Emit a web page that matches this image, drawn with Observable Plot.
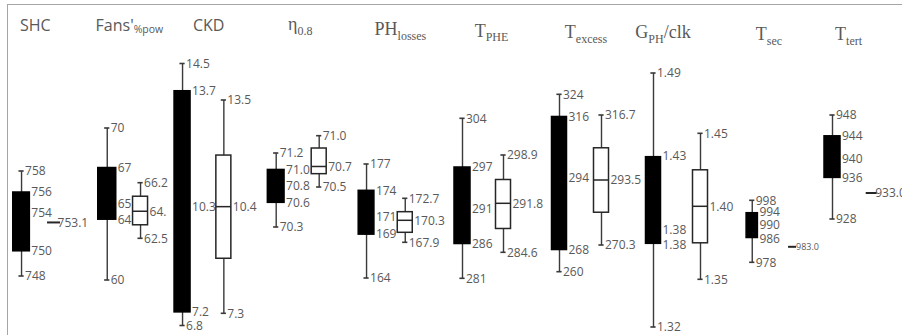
<!DOCTYPE html>
<html><head><meta charset="utf-8">
<script src="https://cdn.jsdelivr.net/npm/d3@7"></script>
<script src="https://cdn.jsdelivr.net/npm/@observablehq/plot@0.6"></script>
<style>
html,body{margin:0;padding:0;background:#fff;}
#chart{position:relative;width:902px;height:335px;overflow:hidden;background:#fff;}
#chart svg{position:absolute;left:0;top:0;}
#frame{position:absolute;left:7px;top:4px;width:900px;height:340px;border-top:1.5px solid #a6a6a6;border-left:1.5px solid #a6a6a6;}
</style></head><body>
<div id="chart"><div id="frame"></div></div>
<script>
// ---------- data ----------
const categories = ["SHC", "Fans'%pow", "CKD", "η0.8", "PHlosses", "TPHE", "Texcess", "GPH/clk", "Tsec", "Ttert"];
// title pieces: main text, subscript, text after subscript
const titleMain = ["SHC", "Fans'", "CKD", "η", "PH", "T", "T", "G", "T", "T"];
const titleSub  = ["", "%pow", "", "0.8", "losses", "PHE", "excess", "PH", "sec", "tert"];
const titleTail = ["", "", "", "", "", "", "", "/clk", "", ""];

// black (filled) boxes
const blackMax = [758, 70, 14.5, 71.2, 177, 304, 324, 1.49, 998, 948];
const blackQ3  = [756, 67.4, 13.7, 71.0, 174, 297, 316, 1.434, 994, 944];
const blackMed = [754, 65, 10.3, 70.8, 171, 291, 294, 1.384, 990, 940];
const blackQ1  = [750.4, 64, 7.2, 70.6, 169, 286, 268, 1.376, 986, 936];
const blackMin = [748, 60, 6.8, 70.3, 164, 281, 260, 1.32, 978, 928];
const blackDecimals = [0, 0, 1, 1, 0, 0, 0, 2, 0, 0];

// white (outlined) boxes; null = only a single value is shown
const whiteMax = [null, 66.2, 13.5, 71.0, 172.7, 298.9, 316.7, 1.45, null, null];
const whiteQ3  = [null, 65.3, 11.9, 70.88, 171.24, 295.3, 305.0, 1.425, null, null];
const whiteMed = [753.1, 64.3, 10.4, 70.7, 170.3, 291.8, 293.5, 1.40, 983.0, 933.0];
const whiteQ1  = [null, 63.4, 8.9, 70.63, 168.99, 288.1, 282.0, 1.375, null, null];
const whiteMin = [null, 62.5, 7.3, 70.5, 167.9, 284.6, 270.3, 1.35, null, null];
const whiteDecimals = [1, 1, 1, 1, 1, 1, 1, 2, 1, 1];
const whiteMedLabel = ["753.1", "64.", "10.4", "70.7", "170.3", "291.8", "293.5", "1.40", "983.0", "933.0"];

// ---------- layout (positions / sizes / styles) ----------
const W = 902, H = 335;
const groupCenter = [37.3, 123.4, 202.7, 297.2, 385.4, 482.5, 580, 676.5, 771.9, 851.6];
const pairGap = [32.5, 33.3, 41.3, 43, 38.7, 41, 42, 47, 40.3, 39.2];
const blackWidth = [16.6, 18, 16, 16.7, 15.7, 16, 15, 15, 11.3, 16];
const whiteWidth = 15;
const singleWidth = [13, 0, 0, 0, 0, 0, 0, 0, 8, 11];
const singleFont = [12, 0, 0, 0, 0, 0, 0, 0, 9, 12];
// small vertical nudges of the black box labels [q3, median, q1], px
const labelNudge = [[0, 0, 0], [0, 0, 0], [0, 0, 0], [0, 0, 0], [0, 0, 0], [0, 0, 0], [0, 0, 0], [-1, -1.5, 1], [-1, 0, 1], [0, 2, 0]];
// pixel rows of each box's whisker ends: [row of max, row of min]
const blackRows = [[171, 276], [128, 280], [63.5, 325.5], [153, 227], [164, 278], [118.3, 278.3], [94.3, 271.7], [73, 327], [200.3, 262.3], [115, 219]];
const whiteRows = [null, [182.7, 238.3], [100, 313.3], [135.7, 187], [198.3, 242.3], [155, 252.3], [115, 245], [133.3, 279.3], null, null];
const serifTitle = [false, false, false, true, true, true, true, true, true, true];
const titleDx = [-2, 6, 6, 3, 15, 9, 6, -13.5, -3, -3];
const titleBase = [31, 31, 31, 30, 35, 36.7, 38, 38, 40, 40];

const INK = "#3a3a3a", TEXT = "#595959";
const LABEL_FONT = "'Open Sans', 'DejaVu Sans', sans-serif";
const LABEL_SIZE = 12;
const xScale = {type: "linear", domain: d3.range(categories.length), range: groupCenter, axis: null};

function capMarks(data, dx) {
  return Plot.rect(data, {x1: "i", x2: "i", y1: "v", y2: "v", insetLeft: -2.6, insetRight: -2.6, insetTop: -0.8, insetBottom: -0.8, fill: INK, dx});
}

function boxPlot(i, kind) {
  const black = kind === "black";
  const st = black
    ? {min: blackMin[i], q1: blackQ1[i], med: blackMed[i], q3: blackQ3[i], max: blackMax[i]}
    : {min: whiteMin[i], q1: whiteQ1[i], med: whiteMed[i], q3: whiteQ3[i], max: whiteMax[i]};
  const rows = black ? blackRows[i] : whiteRows[i];
  const dx = (black ? -1 : 1) * pairGap[i] / 2;
  const w = black ? blackWidth[i] : whiteWidth;
  const dec = black ? blackDecimals[i] : whiteDecimals[i];
  const fmt = d3.format(`.${dec}f`);
  const d = {i, ...st};
  const ends = [{i, v: st.min}, {i, v: st.max}];
  const marks = [
    Plot.ruleX([d], {x: "i", y1: "min", y2: "max", stroke: INK, strokeWidth: 1.4, dx}),
    capMarks(ends, dx),
    Plot.rect([d], {x1: "i", x2: "i", y1: "q1", y2: "q3", insetLeft: -w / 2, insetRight: -w / 2,
      fill: black ? "#000" : "#fff", stroke: black ? "#000" : "#262626", strokeWidth: 1.5, dx})
  ];
  const whiskerLabels = ends.map(e => ({i, v: e.v, t: fmt(e.v), n: 0}));
  let boxLabels;
  if (black) {
    boxLabels = [st.q3, st.med, st.q1].map((v, k) => ({i, v, t: fmt(v), n: labelNudge[i][k]}));
  } else {
    marks.push(Plot.rect([d], {x1: "i", x2: "i", y1: "med", y2: "med", insetLeft: -w / 2, insetRight: -w / 2,
      insetTop: -0.75, insetBottom: -0.75, fill: "#262626", dx}));
    boxLabels = [{i, v: st.med, t: whiteMedLabel[i], n: 0}];
  }
  const textOpts = {x: "i", y: "v", text: "t", textAnchor: "start", fill: TEXT, fontSize: LABEL_SIZE, fontFamily: LABEL_FONT};
  marks.push(Plot.text(whiskerLabels, {...textOpts, dx: dx + 3.5}));
  // nudged labels: one text mark per distinct nudge
  for (const n of new Set(boxLabels.map(b => b.n))) {
    marks.push(Plot.text(boxLabels.filter(b => b.n === n), {...textOpts, dx: dx + w / 2 + 1.5, dy: n}));
  }

  // single-value companion (drawn on the black box's scale)
  if (black && whiteMax[i] == null) {
    const sdx = pairGap[i] / 2;
    const s = [{i, v: whiteMed[i], t: whiteMedLabel[i]}];
    marks.push(Plot.rect(s, {x1: "i", x2: "i", y1: "v", y2: "v", insetLeft: -singleWidth[i] / 2, insetRight: -singleWidth[i] / 2,
      insetTop: -1, insetBottom: -1, fill: "#262626", dx: sdx}));
    marks.push(Plot.text(s, {...textOpts, fontSize: singleFont[i], dx: sdx + 3.5}));
  }

  return Plot.plot({
    width: W, height: H, margin: 0,
    style: {background: "transparent", overflow: "visible"},
    x: xScale,
    y: {domain: [st.min, st.max], range: [rows[1], rows[0]], axis: null},
    marks
  });
}

const chart = document.getElementById("chart");
categories.forEach((c, i) => {
  chart.appendChild(boxPlot(i, "black"));
  if (whiteMax[i] != null) chart.appendChild(boxPlot(i, "white"));
});

// titles with subscripts
const xPos = d3.scaleLinear().domain(d3.range(categories.length)).range(groupCenter);
const tsvg = d3.create("svg").attr("width", W).attr("height", H).style("overflow", "visible");
categories.forEach((c, i) => {
  const serif = serifTitle[i];
  const t = tsvg.append("text")
    .attr("x", xPos(i) + titleDx[i])
    .attr("y", titleBase[i])
    .attr("text-anchor", "middle")
    .attr("fill", TEXT)
    .attr("font-family", serif ? "'Liberation Serif', 'Times New Roman', serif" : LABEL_FONT)
    .attr("font-size", serif ? 18 : 16);
  t.append("tspan").text(titleMain[i]);
  const subSize = serif ? 12 : 10.5;
  const shift = serif ? 4.5 : 2;
  if (titleSub[i]) t.append("tspan").attr("font-size", subSize).attr("dy", shift).text(titleSub[i]);
  if (titleTail[i]) t.append("tspan").attr("dy", -shift).text(titleTail[i]);
});
chart.appendChild(tsvg.node());
</script>
</body></html>
